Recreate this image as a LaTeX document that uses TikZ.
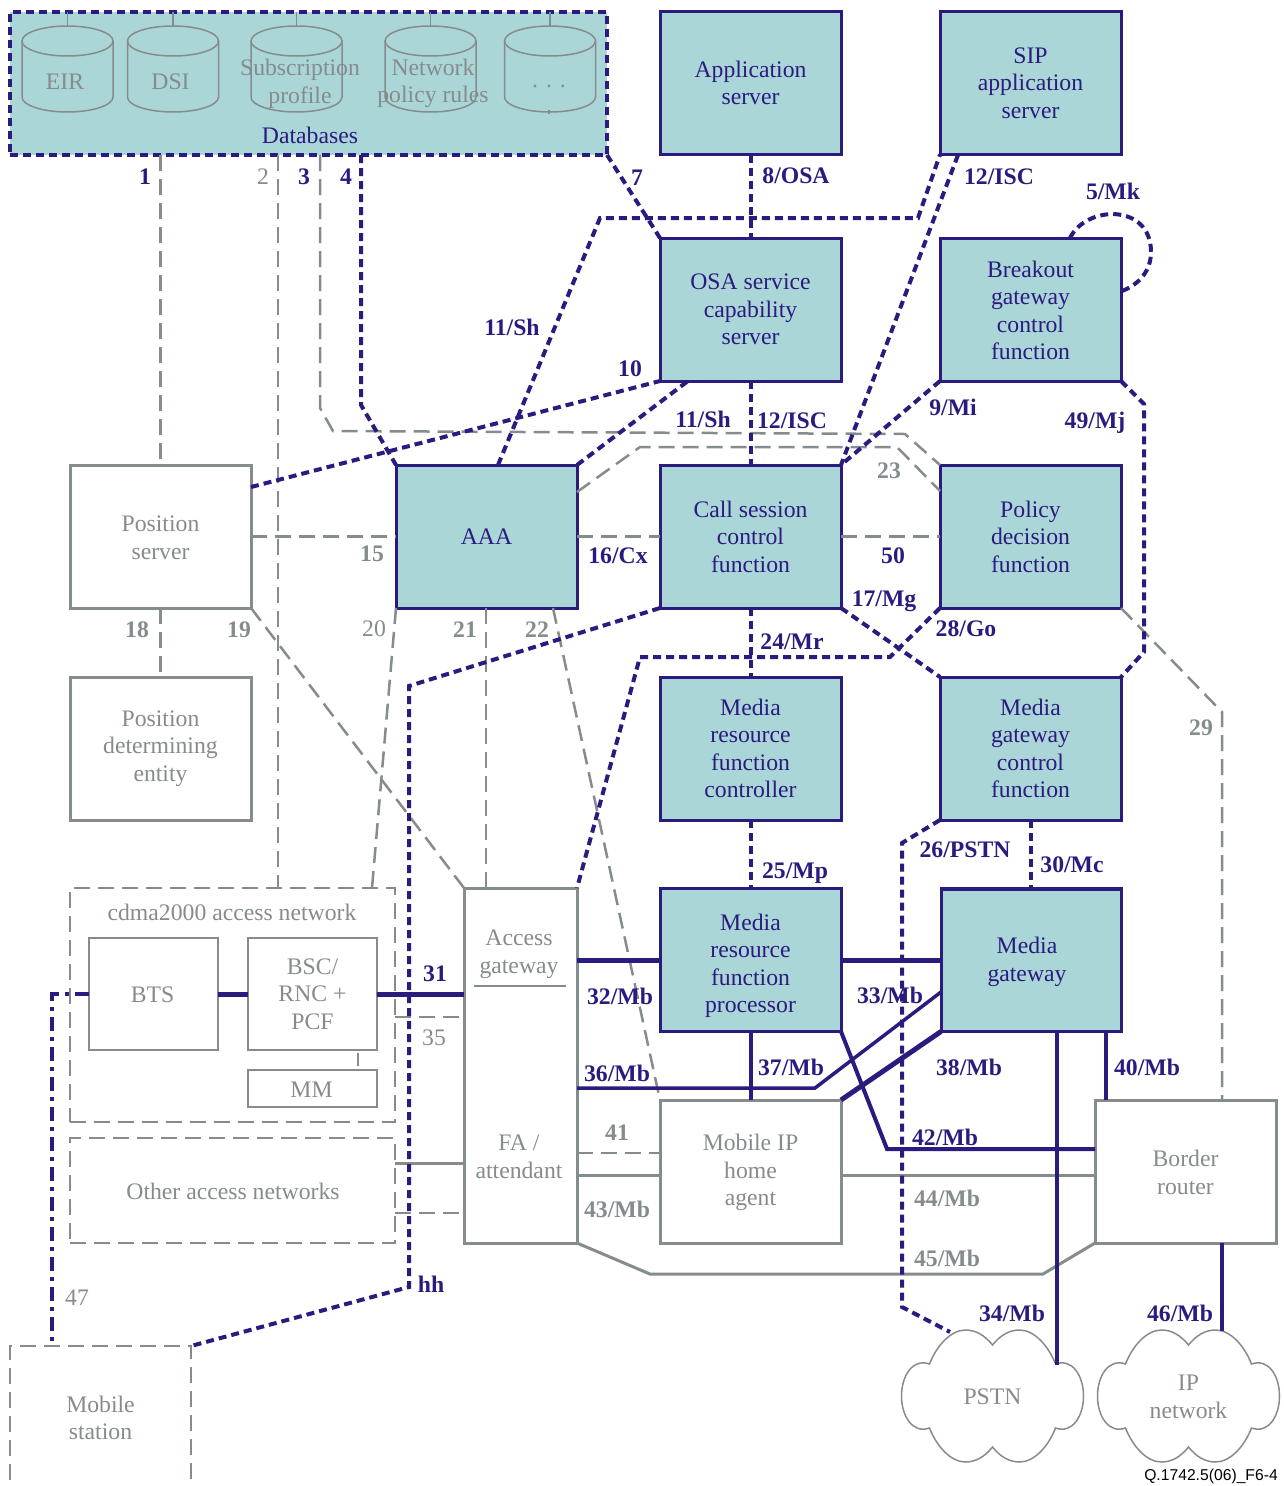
\documentclass[tikz,border=0pt]{standalone}
\usepackage{fontspec}
\setmainfont{Liberation Serif}
\newfontfamily\footfont{Liberation Sans}
\usetikzlibrary{positioning}
\definecolor{navy}{HTML}{2B1B7F}
\definecolor{teal}{HTML}{ABD6D8}
\definecolor{slate}{HTML}{858C8D}

\begin{document}
\begin{tikzpicture}
            [x=1pt, y=-1pt,
            every node/.style={outer sep=0pt, inner sep=0pt, align=center,
                font=\fontsize{23.7}{27.5}\selectfont},
            tealbox/.style={
                draw=navy,
                line width=3pt,
                fill=teal,
                text=navy,
                minimum width=181pt,
                minimum height=143pt
            },
            graybox/.style={tealbox, draw=slate, fill=white, text=slate},
            thinbox/.style={draw=slate, line width=1.5pt, text=slate},
            groupbox/.style={draw=slate, line width=2.5pt, dash pattern=on 16pt off 8pt, text=slate},
            graytext/.style={text=slate},
            navytext/.style={text=navy},
            navylabel/.style={text=navy, font=\fontsize{23.7}{27.5}\selectfont\bfseries},
            graylabel/.style={text=slate, font=\fontsize{23.7}{27.5}\selectfont\bfseries},
            thinlabel/.style={text=slate},
            navyline/.style={draw=navy, line width=4pt},
            heavyline/.style={draw=navy, line width=5pt},
            navydash/.style={draw=navy, line width=4pt, dash pattern=on 8pt off 5pt},
            navydashdot/.style={draw=navy, line width=4pt, dash pattern=on 14pt off 6pt on 4pt off 6pt},
            grayline/.style={draw=slate, line width=3pt},
            graydash/.style={draw=slate, line width=2.5pt, dash pattern=on 16pt off 8pt},
            hairline/.style={draw=slate, line width=1.5pt},
            cloudpic/.pic={
                \path[hairline] (0,-51) .. controls (8,-61) and (17,-66) .. (27,-66)
                    .. controls (42,-66) and (56,-50) .. (63,-32)
                    .. controls (80,-38) and (91,-20) .. (91,0)
                    .. controls (91,20) and (80,38) .. (63,32)
                    .. controls (56,50) and (42,66) .. (27,66)
                    .. controls (17,66) and (8,61) .. (0,51)
                    .. controls (-8,61) and (-17,66) .. (-27,66)
                    .. controls (-42,66) and (-56,50) .. (-63,32)
                    .. controls (-80,38) and (-91,20) .. (-91,0)
                    .. controls (-91,-20) and (-80,-38) .. (-63,-32)
                    .. controls (-56,-50) and (-42,-66) .. (-27,-66)
                    .. controls (-17,-66) and (-8,-61) .. (0,-51) -- cycle;
            }
            ]
            \useasboundingbox (0,0) rectangle (1283,1486);

            % Databases
            \node[tealbox, dash pattern=on 8pt off 5pt, line width=4pt, minimum width=597pt] (db) at (308.5,83.5) {};
            \node[navytext] (dbname) at (310,135) {Databases};
            \foreach \cx/\tname/\txt in {67.5/eir/EIR, 173/dsi/DSI, 296.5/sub/{}, 430.5/net/{}, 550/more/{}}{
                \path[hairline] (\cx,12) -- (\cx,26);
                \path[hairline] (\cx,41) ellipse [x radius=45.5pt, y radius=15pt];
                \path[hairline] (\cx-45.5,41) -- (\cx-45.5,97)
                    arc[start angle=180, end angle=360, x radius=45.5pt, y radius=15pt] -- (\cx+45.5,41);
                \node[graytext] (\tname) at (\cx-2.5,82) {\txt};
            }
            \node[graytext] (subtext) at (300,84) {Subscription\\profile};
            \node[graytext] (nettext) at (433,83.5) {Network\\policy rules};
            \node[graytext] (moretext) at (549,86) {. . .};
            \path[hairline] (549,110) -- (549,114);

            % Upper boxes
            \node[tealbox] (app) at (750.5,83) {Application\\server};
            \node[tealbox] (sip) at (1030.5,83) {SIP\\application\\server};
            \node[tealbox] (osa) at (750.5,309.5) {OSA service\\capability\\server};
            \node[tealbox] (bgcf) at (1030.5,309.5) {};
            \node[navytext] (bgcfname) at (1030.5,310.5) {Breakout\\gateway\\control\\function};
            \node[graybox] (pos) at (160.5,536.5) {};
            \node[graytext] (posname) at (160.5,538) {Position\\server};
            \node[tealbox] (aaa) at (486.5,536.5) {AAA};
            \node[tealbox] (cscf) at (750.5,536.5) {Call session\\control\\function};
            \node[tealbox] (pdf) at (1030.5,536.5) {Policy\\decision\\function};
            \node[graybox] (pde) at (160.5,748.5) {Position\\determining\\entity};
            \node[tealbox] (mrfc) at (750.5,748.5) {Media\\resource\\function\\controller};
            \node[tealbox] (mgcf) at (1030.5,748.5) {Media\\gateway\\control\\function};

            % Access networks
            \node[groupbox, minimum width=325pt, minimum height=234pt] (cdma) at (232.5,1005) {};
            \node[graytext] (cdmaname) at (232,912) {cdma2000 access network};
            \node[thinbox, minimum width=129pt, minimum height=112pt] (bts) at (153.5,994) {};
            \node[graytext] (btsname) at (152.5,995) {BTS};
            \node[thinbox, minimum width=129pt, minimum height=112pt] (bsc) at (312.5,994) {BSC/\\RNC +\\PCF};
            \node[thinbox, minimum width=129pt, minimum height=37pt] (mm) at (312.5,1088.5) {};
            \node[graytext] (mmname) at (311.5,1089.5) {MM};
            \node[groupbox, minimum width=325pt, minimum height=105pt] (other) at (232.5,1190.5) {};
            \node[graytext] (othername) at (233,1191.5) {Other access networks};
            \node[graybox, minimum width=113pt, minimum height=355pt] (ag) at (520.5,1065.5) {};
            \node[graytext] (agname) at (519,954) {Access\\gateway};
            \node[graytext] (faname) at (519,1157) {FA /\\attendant};
            \path[hairline] (474,986) -- (566,986);
            \path[hairline] (358,1053) -- (358,1066);

            % Lower boxes
            \node[tealbox] (mrfp) at (750.5,960) {};
            \node[navytext] (mrfpname) at (750.5,966) {Media\\resource\\function\\processor};
            \node[tealbox, minimum width=180pt] (mgw) at (1031,960) {};
            \node[navytext] (mgwname) at (1027,962) {Media\\gateway};
            \node[graybox] (mip) at (750.5,1171.5) {};
            \node[graytext] (mipname) at (750.5,1172.5) {Mobile IP\\home\\agent};
            \node[graybox] (br) at (1185.5,1171.5) {};
            \node[graytext] (brname) at (1185.5,1172.5) {Border\\router};
            \node[text=slate, minimum width=181pt, minimum height=144pt] (ms) at (100.5,1418) {Mobile\\station};
            \node[graytext] (pstn) at (992.5,1397) {PSTN};
            \node[graytext] (ipnet) at (1188.5,1397) {IP\\network};
            \pic at (992.5,1396) {cloudpic};
            \pic at (1188.5,1396) {cloudpic};

            % Free ends on the sides of boxes
            \coordinate (db2) at (278,155);
            \coordinate (db3) at (320,155);
            \coordinate (db4) at (361,155);
            \coordinate (aaatop) at (498,465);
            \coordinate (sipa) at (958,155);
            \coordinate (osaa) at (688,381);
            \coordinate (posa) at (251,487);
            \coordinate (mka) at (1070,238);
            \coordinate (mkb) at (1122,291);
            \coordinate (aaaa) at (577,492);
            \coordinate (pdfa) at (940,491);
            \coordinate (aaab) at (553,608);
            \coordinate (cdma2) at (278,888);
            \coordinate (cdma20) at (372,888);
            \coordinate (agaaa) at (486,888);
            \coordinate (mgca) at (1031,820);
            \coordinate (mgwa) at (1031,889);
            \coordinate (mgwb) at (1057,1031);
            \coordinate (mgwc) at (1106,1031);
            \coordinate (mgwd) at (941,992);
            \coordinate (pstna) at (1057,1365);
            \coordinate (pstnb) at (950,1332);
            \coordinate (ipa) at (1222,1331);
            \coordinate (bra) at (1106,1100);
            \coordinate (brb) at (1222,1243);
            \coordinate (brc) at (1095,1149);
            \coordinate (brd) at (1095,1175);
            \coordinate (bre) at (1222,1100);

            % Gray dashed
            \path[graydash] (pos.north |- db.south) -- (pos.north);
            \path[graydash] (db2) -- (cdma2);
            \path[graydash] (db3) -- (320,408) -- (333,431) -- (905,434) -- (pdf.north west);
            \path[graydash] (aaaa) -- (640,447) -- (897,447) -- (pdfa);
            \path[graydash] (pos) -- (aaa);
            \path[graydash] (aaa) -- (cscf);
            \path[graydash] (cscf) -- (pdf);
            \path[graydash] (pos) -- (pde);
            \path[graydash] (pos.south east) -- (ag.north west);
            \path[graydash] (aaa.south west) -- (cdma20);
            \path[graydash] (aaa.south -| agaaa) -- (agaaa);
            \path[graydash] (aaab) -- (mip.north west);
            \path[graydash] (pdf.south east) -- (1222,712) -- (bre);
            \path[graydash] (cdma.east |- 0,1017) -- (ag.west |- 0,1017);
            \path[graydash] (ag.east |- 0,1153) -- (mip.west |- 0,1153);
            \path[graydash] (other.east |- 0,1213) -- (ag.west |- 0,1213);

            % Gray solid
            \path[grayline] (other.east |- 0,1163) -- (ag.west |- 0,1163);
            \path[grayline] (ag.east |- 0,1175) -- (mip.west |- 0,1175);
            \path[grayline] (mip.east |- 0,1175) -- (brd);
            \path[grayline] (ag.south east) -- (650,1274) -- (1043,1274) -- (br.south west);

            % Navy solid
            \path[heavyline] (bts) -- (bsc);
            \path[heavyline] (bsc) -- (ag.west |- bsc);
            \path[navydashdot] (bts) -- (52,994) -- (52,1346);
            \path[heavyline] (ag.east |- mrfp) -- (mrfp);
            \path[heavyline] (mrfp) -- (mgw);
            \path[navyline, line width=3.5pt] (ag.east |- 0,1088) -- (815,1088) -- (mgwd);
            \path[navyline] (mrfp) -- (mip);
            \path[heavyline] (mgw.south west) -- (mip.north east);
            \path[navyline] (mrfp.south east) -- (887,1149) -- (brc);
            \path[navyline] (mgwb) -- (pstna);
            \path[navyline] (mgwc) -- (bra);
            \path[navyline] (brb) -- (ipa);
            \path[navyline] (mgw.north west) -- (mgw.north east);

            % Navy dashed
            \path[navydash] (db4) -- (361,405) -- (aaa.north west);
            \path[navydash] (db.south east) -- (osa.north west);
            \path[navydash] (app) -- (osa);
            \path[navydash] (aaatop) -- (600,218) -- (918,218) -- (sip.south west);
            \path[navydash] (sipa) -- (cscf.north east);
            \path[navydash] (mka) .. controls (1086,205) and (1151,203) .. (1151,252) .. controls (1151,270) and (1140,284) .. (mkb);
            \path[navydash] (posa) -- (osa.south west);
            \path[navydash] (aaa.north east) -- (osaa);
            \path[navydash] (osa) -- (cscf);
            \path[navydash] (bgcf.south west) -- (cscf.north east);
            \path[navydash] (bgcf.south east) -- (1144,404) -- (1144,652) -- (mgcf.north east);
            \path[navydash] (cscf.south east) -- (mgcf.north west);
            \path[navydash] (pdf.south west) -- (890,657) -- (640,657) -- (ag.north east);
            \path[navydash] (cscf) -- (mrfc);
            \path[navydash] (cscf.south west) -- (409,686) -- (409,1287) -- (ms.north east);
            \path[navydash] (mrfc) -- (mrfp);
            \path[navydash] (mgca) -- (mgwa);
            \path[navydash] (mgcf.south west) -- (902,843) -- (902,1307) -- (pstnb);

            % Mobile station, open at the bottom
            \path[graydash] ([yshift=-134pt]ms.north west) -- (ms.north west) -- (ms.north east) -- ([yshift=-134pt]ms.north east);

            % Labels
            \node[navylabel] (l1) at (145,177) {1};
            \node[thinlabel] (l2) at (263,177) {2};
            \node[navylabel] (l3) at (304,177) {3};
            \node[navylabel] (l4) at (346,177) {4};
            \node[navylabel] (l5) at (1113,191) {5/Mk};
            \node[navylabel] (l7) at (637,178) {7};
            \node[navylabel] (l8) at (796,176) {8/OSA};
            \node[navylabel] (l9) at (953,407) {9/Mi};
            \node[navylabel] (l10) at (630,369) {10};
            \node[navylabel] (l11a) at (512,327) {11/Sh};
            \node[navylabel] (l11b) at (703,419) {11/Sh};
            \node[navylabel] (l12a) at (999,177) {12/ISC};
            \node[navylabel] (l12b) at (792,421) {12/ISC};
            \node[graylabel] (l15) at (372,554) {15};
            \node[navylabel] (l16) at (618,556) {16/Cx};
            \node[navylabel] (l17) at (884,601) {17/Mg};
            \node[graylabel] (l18) at (137,630) {18};
            \node[graylabel] (l19) at (239,630) {19};
            \node[thinlabel] (l20) at (374,629) {20};
            \node[graylabel] (l21) at (465,630) {21};
            \node[graylabel] (l22) at (537,630) {22};
            \node[graylabel] (l23) at (889,471) {23};
            \node[navylabel] (l24) at (792,642) {24/Mr};
            \node[navylabel] (l25) at (795,873) {25/Mp};
            \node[navylabel] (l26) at (965,850) {26/PSTN};
            \node[navylabel] (l28) at (966,629) {28/Go};
            \node[graylabel] (l29) at (1201,728) {29};
            \node[navylabel] (l30) at (1072,865) {30/Mc};
            \node[navylabel] (l31) at (435,974) {31};
            \node[navylabel] (l32) at (620,996) {32/Mb};
            \node[navylabel] (l33) at (890,995) {33/Mb};
            \node[navylabel] (l34) at (1012,1313) {34/Mb};
            \node[thinlabel] (l35) at (434,1038) {35};
            \node[navylabel] (l36) at (617,1073) {36/Mb};
            \node[navylabel] (l37) at (791,1067) {37/Mb};
            \node[navylabel] (l38) at (969,1067) {38/Mb};
            \node[navylabel] (l40) at (1147,1067) {40/Mb};
            \node[graylabel] (l41) at (617,1133) {41};
            \node[navylabel] (l42) at (945,1137) {42/Mb};
            \node[graylabel] (l43) at (617,1209) {43/Mb};
            \node[graylabel] (l44) at (947,1198) {44/Mb};
            \node[graylabel] (l45) at (947,1258) {45/Mb};
            \node[navylabel] (l46) at (1180,1313) {46/Mb};
            \node[thinlabel] (l47) at (77,1298) {47};
            \node[navylabel] (l49) at (1095,423) {49/Mj};
            \node[navylabel] (l50) at (893,556) {50};
            \node[navylabel] (lhh) at (431,1284) {hh};
            \node[font=\fontsize{15.7}{17}\footfont] (figref) at (1211,1476) {Q.1742.5(06)\_F6-4};
\end{tikzpicture}
\end{document}
